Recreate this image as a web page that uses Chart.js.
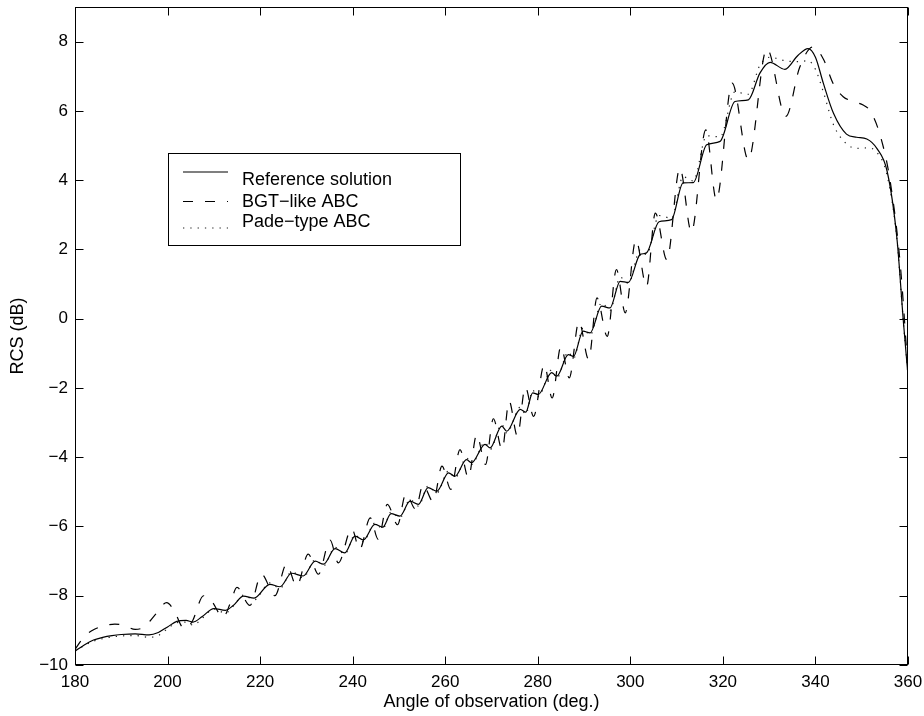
<!DOCTYPE html>
<html>
<head>
<title>RCS vs angle of observation</title>
<style>
  body { margin: 0; background: #fff; }
  #wrap { width: 924px; height: 716px; }
</style>
<script src="https://cdn.jsdelivr.net/npm/chart.js"></script>
</head>
<body>
<div id="wrap"><canvas id="rcsChart"></canvas></div>
<script>
const xTicks = [180, 200, 220, 240, 260, 280, 300, 320, 340, 360];
const yTicks = [-10, -8, -6, -4, -2, 0, 2, 4, 6, 8];

const seriesNames = ['Reference solution', 'BGT\u2212like ABC', 'Pade\u2212type ABC'];

// reference solution (solid)
const refAngle = [180, 182, 184, 186, 188, 190, 193, 196, 198, 200,
  202, 204, 205.5, 207.5, 210, 212.5, 214.2, 216.4, 218.7,
  222.1, 224.3, 226.8, 229.3, 231.9, 233.7, 236.2, 238.3, 240.5, 242.3,
  244.8, 246.5, 248.3, 250.2, 252.4, 254.2, 256.3, 258.2, 260.7, 262.1,
  264.6, 265.7, 268.6, 269.7, 272.2, 273.3, 276.2, 277.4, 278.9, 280.1,
  283, 284.1, 286.6, 287.7, 289.8, 291.3, 293.8, 295.6, 297.8, 299.6,
  302.1, 303.5, 306.2, 308.9, 311.4, 313.6, 316.5, 319.4, 322.6, 325.5,
  328, 330.2, 333.4, 336.2, 338.4, 340, 341.7, 343.9, 346.7, 348.9,
  351.1, 353.3, 355.5, 357.6, 359, 360];
const refRcs = [-9.6, -9.42, -9.28, -9.2, -9.15, -9.12, -9.1, -9.13, -9.06, -8.9,
  -8.74, -8.71, -8.76, -8.6, -8.37, -8.42, -8.28, -8.01, -8.07,
  -7.67, -7.74, -7.35, -7.43, -7.0, -7.09, -6.64, -6.76, -6.28, -6.39,
  -5.94, -6.02, -5.63, -5.70, -5.27, -5.36, -4.88, -4.98, -4.45, -4.55,
  -4.07, -4.16, -3.63, -3.73, -3.10, -3.25, -2.62, -2.70, -2.14, -2.19,
  -1.56, -1.66, -1.04, -1.09, -0.36, -0.41, 0.36, 0.31, 1.08, 1.05,
  1.85, 1.90, 2.8, 2.86, 3.92, 3.93, 5.02, 5.12, 6.27, 6.32,
  7.09, 7.4, 7.2, 7.6, 7.8, 7.55, 6.8, 5.93, 5.33, 5.24,
  5.19, 4.91, 4.25, 2.33, -0.08, -1.64];

// BGT-like ABC (dashed)
const bgtAngle = [180, 182, 184.2, 186, 188.6, 190.5, 193, 195, 197.3, 199.8,
  201.3, 203.6, 205.3, 207.8, 209.5, 212, 213.6, 215, 217.8,
  220.3, 223.2, 225.7, 227.9, 230.4, 232.6, 235.1, 236.9, 239.8, 241.5,
  243.8, 245.5, 247.5, 249.7, 251.5, 253.6, 255.2, 257.4, 259.3, 261.2,
  263.2, 265, 266.8, 268.7, 270.4, 272.3, 273.8, 275.6, 277.3, 279.1,
  281.4, 283.1, 285, 286.8, 288.9, 291, 292.8, 295, 297, 298.9,
  301.2, 303.5, 305.4, 307.9, 310.7, 313.2, 316.3, 318.6, 322, 325.5,
  329.5, 333.6, 336.6, 339.5, 341.7, 343.9, 346, 348.2, 350.3, 351.8,
  353.9, 356.1, 358.3, 360];
const bgtRcs = [-9.55, -9.18, -8.97, -8.88, -8.82, -8.85, -8.97, -8.9, -8.55, -8.2,
  -8.4, -8.95, -8.75, -8.0, -8.15, -8.62, -8.2, -7.76, -8.28,
  -7.38, -8.0, -7.09, -7.72, -6.8, -7.38, -6.39, -7.05, -6.06, -6.66,
  -5.75, -6.37, -5.36, -5.95, -5.05, -5.5, -4.8, -5.28, -4.26, -4.93,
  -3.78, -4.59, -3.35, -4.21, -2.89, -3.78, -2.38, -3.39, -1.97, -2.82,
  -1.33, -2.29, -0.8, -1.71, -0.08, -1.18, 0.6, -0.51, 1.42, 0.17,
  2.28, 0.93, 3.05, 1.70, 4.35, 2.5, 5.45, 3.43, 6.8, 4.59,
  7.8, 5.84, 7.26, 7.85, 7.5, 6.77, 6.41, 6.27, 6.17, 6.0,
  5.33, 4.01, 1.61, -1.5];

// Pade-type ABC (dotted)
const padeAngle = refAngle.slice();
const padeRcs = [-9.6, -9.44, -9.31, -9.24, -9.19, -9.16, -9.15, -9.2, -9.15, -8.95,
  -8.78, -8.76, -8.85, -8.65, -8.38, -8.5, -8.3, -7.98, -8.12,
  -7.63, -7.79, -7.31, -7.48, -6.96, -7.14, -6.6, -6.8, -6.24, -6.44,
  -5.9, -6.07, -5.58, -5.75, -5.22, -5.41, -4.83, -5.03, -4.4, -4.6,
  -4.02, -4.21, -3.57, -3.78, -3.05, -3.3, -2.56, -2.76, -2.07, -2.25,
  -1.48, -1.72, -0.96, -1.15, -0.27, -0.48, 0.46, 0.24, 1.2, 1.02,
  1.98, 1.85, 2.98, 2.9, 4.1, 3.98, 5.28, 5.25, 6.55, 6.48,
  7.32, 7.55, 7.45, 7.42, 7.45, 7.2, 6.55, 5.6, 5.05, 4.92,
  4.93, 4.8, 4.13, 2.3, -0.1, -1.62];

const FONT = "'Liberation Sans', Arial, Helvetica, sans-serif";

function toPoints(xs, ys) {
  return xs.map((x, i) => ({ x: x, y: ys[i] }));
}

function minusSign(v) {
  return String(v).replace('-', '\u2212');
}

// no extra room for half labels at the axis ends
function noEndPadding(scale) {
  scale.paddingTop = 0;
  scale.paddingBottom = 0;
  scale.paddingLeft = 0;
  scale.paddingRight = 0;
}

// box around the axes with inward ticks, plus the boxed legend
const matlabFrame = {
  id: 'matlabFrame',
  afterDatasetsDraw(chart) {
    const ctx = chart.ctx;
    const area = chart.chartArea;
    const xs = chart.scales.x;
    const ys = chart.scales.y;
    const L = area.left + 0.5, R = area.right - 0.5, T = area.top + 0.5, B = area.bottom - 0.5;
    const tl = 8;
    ctx.save();
    ctx.strokeStyle = '#000';
    ctx.lineWidth = 1;
    ctx.setLineDash([]);
    ctx.strokeRect(L, T, R - L, B - T);
    ctx.beginPath();
    xTicks.forEach(v => {
      const px = Math.round(xs.getPixelForValue(v)) + 0.5;
      ctx.moveTo(px, B); ctx.lineTo(px, B - tl);
      ctx.moveTo(px, T); ctx.lineTo(px, T + tl);
    });
    yTicks.forEach(v => {
      const py = Math.round(ys.getPixelForValue(v)) + 0.5;
      ctx.moveTo(L, py); ctx.lineTo(L + tl, py);
      ctx.moveTo(R, py); ctx.lineTo(R - tl, py);
    });
    ctx.stroke();

    // legend
    const bx = 168.5, by = 153.5, bw = 292, bh = 92;
    ctx.fillStyle = '#fff';
    ctx.fillRect(bx, by, bw, bh);
    ctx.strokeRect(bx, by, bw, bh);
    const lineY = [172, 201.5, 228];
    const textY = [185, 207, 227];
    ctx.font = '18px ' + FONT;
    ctx.textBaseline = 'alphabetic';
    ctx.textAlign = 'left';
    chart.data.datasets.forEach((ds, i) => {
      ctx.save();
      ctx.strokeStyle = ds.borderColor;
      ctx.lineWidth = ds.borderWidth;
      ctx.setLineDash(ds.borderDash || []);
      ctx.beginPath();
      ctx.moveTo(183, lineY[i]);
      ctx.lineTo(228, lineY[i]);
      ctx.stroke();
      ctx.restore();
      ctx.fillStyle = '#000';
      ctx.fillText(ds.label, 242, textY[i]);
    });
    ctx.restore();
  }
};

new Chart(document.getElementById('rcsChart'), {
  type: 'line',
  data: {
    datasets: [
      {
        label: seriesNames[0],
        data: toPoints(refAngle, refRcs),
        borderColor: '#000',
        borderWidth: 1.2,
        pointRadius: 0,
        cubicInterpolationMode: 'monotone'
      },
      {
        label: seriesNames[1],
        data: toPoints(bgtAngle, bgtRcs),
        borderColor: '#000',
        borderWidth: 1.2,
        borderDash: [10, 12],
        pointRadius: 0,
        cubicInterpolationMode: 'monotone'
      },
      {
        label: seriesNames[2],
        data: toPoints(padeAngle, padeRcs),
        borderColor: '#222',
        borderWidth: 1.2,
        borderDash: [1.3, 6],
        pointRadius: 0,
        cubicInterpolationMode: 'monotone'
      }
    ]
  },
  options: {
    responsive: true,
    maintainAspectRatio: false,
    animation: false,
    layout: { padding: { top: 7, right: 16, left: 0, bottom: 0 } },
    plugins: {
      legend: { display: false },
      tooltip: { enabled: false }
    },
    scales: {
      x: {
        type: 'linear',
        min: 180,
        max: 360,
        afterBuildTicks: scale => { scale.ticks = xTicks.map(v => ({ value: v })); },
        afterFit: scale => { scale.height = 51; noEndPadding(scale); },
        grid: { display: false, drawTicks: false },
        border: { display: false },
        ticks: {
          color: '#000',
          font: { family: FONT, size: 17 },
          padding: 7,
          maxRotation: 0,
          callback: v => minusSign(v)
        },
        title: {
          display: true,
          text: 'Angle of observation (deg.)',
          color: '#000',
          font: { family: FONT, size: 18 },
          padding: { top: 0, bottom: 3 }
        }
      },
      y: {
        type: 'linear',
        min: -10,
        max: 9,
        afterBuildTicks: scale => { scale.ticks = yTicks.map(v => ({ value: v })); },
        afterFit: scale => { scale.width = 75; noEndPadding(scale); },
        grid: { display: false, drawTicks: false },
        border: { display: false },
        ticks: {
          color: '#000',
          font: { family: FONT, size: 17 },
          padding: 7,
          callback: v => minusSign(v)
        },
        title: {
          display: true,
          text: 'RCS (dB)',
          color: '#000',
          font: { family: FONT, size: 18 },
          padding: { top: 7, bottom: 0 }
        }
      }
    }
  },
  plugins: [matlabFrame]
});
</script>
</body>
</html>
